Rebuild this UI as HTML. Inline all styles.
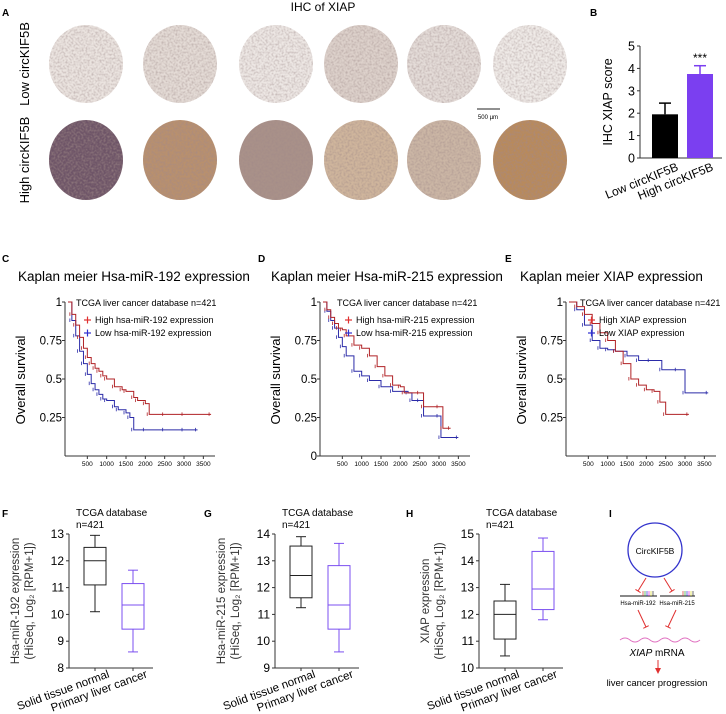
<!DOCTYPE html>
<html><head><meta charset="utf-8"><style>
html,body{margin:0;padding:0;background:#fff}
svg{display:block;font-family:"Liberation Sans",sans-serif}
</style></head><body>
<svg id="fig" width="726" height="714" viewBox="0 0 726 714" xmlns="http://www.w3.org/2000/svg">
<defs>
<filter id="tex" x="0" y="0" width="100%" height="100%">
<feTurbulence type="fractalNoise" baseFrequency="0.5" numOctaves="2" seed="3" result="n"/>
<feColorMatrix in="n" type="matrix" values="0 0 0 0 0.35  0 0 0 0 0.25  0 0 0 0 0.25  0 0 0 -1.2 0.75" result="m"/>
<feComposite in="m" in2="SourceGraphic" operator="in" result="c"/>
<feMerge><feMergeNode in="SourceGraphic"/><feMergeNode in="c"/></feMerge>
</filter>
</defs>
<g id="root"></g>
</svg>
<script>
// ---------- DATA ----------
const ihcLowColors = ["#ebe4e0","#e4dbd6","#ede7e4","#ddd1cb","#e4dcd8","#efeae7"];
const ihcHighColors = ["#6e5567","#b8906e","#a99189","#cfb59c","#cbb6a5","#b88a5c"];
const barCategories = ["Low circKIF5B","High circKIF5B"];
const barValues = [1.95, 3.75];
const barErrors = [0.5, 0.37];
const barTicks = [0,1,2,3,4,5];

const kmTicksX = [500,1000,1500,2000,2500,3000,3500];
const kmTicksY = [1,0.75,0.5,0.25];
const cHighT = [0,100,200,300,400,500,600,700,800,900,1000,1200,1400,1500,1700,1800,2000,2100,2500,3000,3700];
const cHighS = [1,0.92,0.85,0.77,0.70,0.64,0.60,0.57,0.55,0.52,0.50,0.45,0.43,0.42,0.38,0.36,0.34,0.27,0.27,0.27,0.27];
const cLowT = [0,100,200,300,400,500,600,700,800,900,1000,1200,1300,1500,1600,1700,2000,2500,3000,3350];
const cLowS = [1,0.88,0.78,0.68,0.60,0.53,0.47,0.43,0.40,0.37,0.36,0.32,0.30,0.28,0.25,0.17,0.17,0.17,0.17,0.17];
const dHighT = [0,100,200,300,400,500,600,800,1000,1200,1400,1600,1800,2000,2100,2500,2600,3000,3100,3300];
const dHighS = [1,0.95,0.90,0.86,0.83,0.82,0.78,0.72,0.70,0.65,0.58,0.52,0.46,0.45,0.41,0.41,0.32,0.32,0.18,0.18];
const dLowT = [0,100,200,300,400,500,600,800,1000,1200,1500,1800,2200,2300,2500,2600,3000,3050,3500];
const dLowS = [1,0.94,0.88,0.83,0.77,0.71,0.65,0.55,0.52,0.49,0.45,0.42,0.41,0.36,0.36,0.26,0.26,0.12,0.12];
const eHighT = [0,200,400,600,800,1000,1200,1400,1600,1800,2000,2200,2350,2500,3100];
const eHighS = [1,0.97,0.92,0.86,0.80,0.75,0.68,0.60,0.50,0.46,0.43,0.42,0.35,0.27,0.27];
const eLowT = [0,200,400,600,800,1000,1200,1500,1800,2100,2400,2800,3000,3600];
const eLowS = [1,0.95,0.85,0.75,0.70,0.69,0.68,0.65,0.62,0.62,0.56,0.56,0.41,0.41];

const boxCategories = ["Solid tissue normal","Primary liver cancer"];
// [min, q1, median, q3, max]
const fNormal = [10.1,11.1,12.0,12.5,12.95];
const fCancer = [8.6,9.45,10.35,11.15,11.65];
const gNormal = [11.25,11.62,12.45,13.55,13.9];
const gCancer = [9.6,10.45,11.35,12.82,13.65];
const hNormal = [10.45,11.08,12.0,12.5,13.12];
const hCancer = [11.8,12.18,12.95,14.35,14.85];
const fTicks = [8,9,10,11,12,13];
const gTicks = [9,10,11,12,13,14];
const hTicks = [10,11,12,13,14,15];

// ---------- HELPERS ----------
const NS="http://www.w3.org/2000/svg";
const root=document.getElementById('root');
function mk(tag,attrs,parent,text){const e=document.createElementNS(NS,tag);for(const k in attrs)e.setAttribute(k,attrs[k]);if(text!==undefined)e.textContent=text;(parent||root).appendChild(e);return e;}
function grp(name,parent){const g=mk('g',{},parent);


return g;}
function txt(name,x,y,s,attrs,parent){const t=mk('text',Object.assign({x:x,y:y},attrs),parent,s);


return t;}

// ---------- PANEL A ----------
const gA=grp('panel-a');
txt('panel-label-a',2,16,'A',{'font-size':10,'font-weight':'bold'},gA);
txt('ihc-title',323,11,'IHC of XIAP',{'font-size':12,'text-anchor':'middle'},gA);
const ihcX=[86,180,276,361,444,530];
ihcX.forEach((x,i)=>{
  const c1=mk('ellipse',{cx:x,cy:64,rx:37,ry:39,fill:ihcLowColors[i],filter:'url(#tex)'},gA);
  
  
  const c2=mk('ellipse',{cx:x,cy:160,rx:37,ry:40,fill:ihcHighColors[i],filter:'url(#tex)'},gA);
  
  
});
txt('row-label-low',29,64,'Low circKIF5B',{'font-size':13,'text-anchor':'middle',transform:'rotate(-90 29 64)'},gA);
txt('row-label-high',29,160,'High circKIF5B',{'font-size':13,'text-anchor':'middle',transform:'rotate(-90 29 160)'},gA);
const sb=mk('line',{x1:477,y1:109,x2:500,y2:109,stroke:'#222','stroke-width':1},gA);


txt('scale-bar-label',488,119,'500 µm',{'font-size':6,'text-anchor':'middle'},gA);

// ---------- PANEL B ----------
const gB=grp('panel-b');
txt('panel-label-b',590,16,'B',{'font-size':10,'font-weight':'bold'},gB);
const bx0=640,by0=158,bunit=22.4;
const yB=v=>by0-v*bunit;
mk('line',{x1:bx0,y1:yB(5),x2:bx0,y2:by0,stroke:'#333'},gB);
mk('line',{x1:bx0,y1:by0,x2:722,y2:by0,stroke:'#333'},gB);
barTicks.forEach(t=>{mk('line',{x1:bx0-3,y1:yB(t),x2:bx0,y2:yB(t),stroke:'#333'},gB);
txt('b-y-tick',bx0-5,yB(t)+4.5,String(t),{'font-size':12.5,'text-anchor':'end'},gB);});
txt('b-y-title',612,102,'IHC XIAP score',{'font-size':12.5,'text-anchor':'middle',transform:'rotate(-90 612 102)'},gB);
const barX=[652,687],barCol=['#000','#7b3ff0'];
barValues.forEach((v,i)=>{
  const r=mk('rect',{x:barX[i],y:yB(v),width:26,height:by0-yB(v),fill:barCol[i]},gB);
  
  
  const cx=barX[i]+13;
  mk('line',{x1:cx,y1:yB(v),x2:cx,y2:yB(v+barErrors[i]),stroke:barCol[i],'stroke-width':1.5},gB);
  mk('line',{x1:cx-6,y1:yB(v+barErrors[i]),x2:cx+6,y2:yB(v+barErrors[i]),stroke:barCol[i],'stroke-width':1.5},gB);
  txt('b-x-label',cx+14,by0+12,barCategories[i],{'font-size':12,'text-anchor':'end',transform:`rotate(-22 ${cx+14} ${by0+12})`},gB);
});
txt('significance-stars',700,62,'***',{'font-size':12,'text-anchor':'middle'},gB);

// ---------- KM PANELS ----------
function km(name,letter,lx,title,tx,ax,legX,hT,hS,lT,lS,hName,lName,showZero){
  const g=grp(name);
  txt('panel-label-'+letter.toLowerCase(),lx,262,letter,{'font-size':10,'font-weight':'bold'},g);
  txt('km-title',tx,281,title,{'font-size':13.5},g);
  const y1=302,y0=456;
  const X=t=>ax+3+t*0.03867, Y=s=>y0-s*(y0-y1);
  mk('line',{x1:ax,y1:y1,x2:ax,y2:y0,stroke:'#333'},g);
  mk('line',{x1:ax,y1:y0,x2:ax+150,y2:y0,stroke:'#333'},g);
  kmTicksY.concat(showZero?[0]:[]).forEach(s=>{mk('line',{x1:ax-3,y1:Y(s),x2:ax,y2:Y(s),stroke:'#333'},g);
    txt('km-y-tick',ax-3,Y(s)+4,String(s),{'font-size':11.5,'text-anchor':'end'},g);});
  kmTicksX.forEach(t=>{mk('line',{x1:X(t),y1:y0,x2:X(t),y2:y0+3,stroke:'#333'},g);
    txt('km-x-tick',X(t),y0+10,String(t),{'font-size':6.5,'text-anchor':'middle'},g);});
  txt('km-y-title',ax-40,380,'Overall survival',{'font-size':13,'text-anchor':'middle',transform:`rotate(-90 ${ax-40} 380)`},g);
  function step(T,S,col,nm){
    let d='M'+X(T[0])+','+Y(S[0]);
    for(let i=1;i<T.length;i++){d+=' H'+X(T[i])+' V'+Y(S[i]);}
    const p=mk('path',{d:d,fill:'none',stroke:col,'stroke-width':1},g);
    
    
    for(let i=1;i<T.length;i++){mk('line',{x1:X(T[i])-2,y1:Y(S[i])+1.5,x2:X(T[i])-2,y2:Y(S[i])-2,stroke:col,'stroke-width':0.8},g);}
  }
  step(lT,lS,'#2b2ba8','km-low-curve');
  step(hT,hS,'#b02226','km-high-curve');
  txt('km-legend-title',legX,306,'TCGA liver cancer database n=421',{'font-size':9},g);
  [['#e03030',hName,323],['#3030d0',lName,336]].forEach(([c,s,y])=>{
    mk('line',{x1:legX+8,y1:y-3,x2:legX+15,y2:y-3,stroke:c,'stroke-width':1.2},g);
    mk('line',{x1:legX+11.5,y1:y-6.5,x2:legX+11.5,y2:y+0.5,stroke:c,'stroke-width':1.2},g);
    txt('km-legend-entry',legX+19,y,s,{'font-size':9},g);
  });
}
km('panel-c','C',2,'Kaplan meier Hsa-miR-192 expression',18,65,76,cHighT,cHighS,cLowT,cLowS,'High hsa-miR-192 expression','Low hsa-miR-192 expression',false);
km('panel-d','D',258,'Kaplan meier Hsa-miR-215 expression',271,320,337,dHighT,dHighS,dLowT,dLowS,'High hsa-miR-215 expression','Low hsa-miR-215 expression',true);
km('panel-e','E',505,'Kaplan meier XIAP expression',520,566,580,eHighT,eHighS,eLowT,eLowS,'High XIAP expression','Low XIAP expression',false);

// ---------- BOX PANELS ----------
function box(name,letter,lx,ax,ticks,normal,cancer,line1){
  const g=grp(name);
  txt('panel-label-'+letter.toLowerCase(),lx,517,letter,{'font-size':10,'font-weight':'bold'},g);
  txt('box-title',ax+7,516,'TCGA database',{'font-size':10},g);
  txt('box-n',ax+7,528,'n=421',{'font-size':10},g);
  const yTop=534,yBot=668,lo=ticks[0],hi=ticks[ticks.length-1];
  const Y=v=>yBot-(v-lo)/(hi-lo)*(yBot-yTop);
  mk('line',{x1:ax,y1:yTop,x2:ax,y2:yBot,stroke:'#333'},g);
  mk('line',{x1:ax,y1:yBot,x2:ax+84,y2:yBot,stroke:'#333'},g);
  ticks.forEach(t=>{mk('line',{x1:ax-3,y1:Y(t),x2:ax,y2:Y(t),stroke:'#333'},g);
    txt('box-y-tick',ax-5,Y(t)+4,String(t),{'font-size':12,'text-anchor':'end'},g);});
  txt('box-y-title',ax-50,601,line1,{'font-size':11.5,'text-anchor':'middle',fill:'#333',transform:`rotate(-90 ${ax-50} 601)`},g);
  txt('box-y-title-2',ax-36,601,'(HiSeq, Log₂ [RPM+1])',{'font-size':11.5,'text-anchor':'middle',fill:'#333',transform:`rotate(-90 ${ax-36} 601)`},g);
  [[normal,'#222',26],[cancer,'#7b4ff0',64]].forEach(([b,c,dx],i)=>{
    const cx=ax+dx,w=22;
    mk('line',{x1:cx,y1:yBot,x2:cx,y2:yBot+3,stroke:'#333'},g);
    const gb=grp(i?'box-cancer':'box-normal',g);
    mk('line',{x1:cx,y1:Y(b[0]),x2:cx,y2:Y(b[4]),stroke:c},gb);
    mk('line',{x1:cx-5,y1:Y(b[0]),x2:cx+5,y2:Y(b[0]),stroke:c},gb);
    mk('line',{x1:cx-5,y1:Y(b[4]),x2:cx+5,y2:Y(b[4]),stroke:c},gb);
    mk('rect',{x:cx-w/2,y:Y(b[3]),width:w,height:Y(b[1])-Y(b[3]),fill:'#fff',stroke:c},gb);
    mk('line',{x1:cx-w/2,y1:Y(b[2]),x2:cx+w/2,y2:Y(b[2]),stroke:c},gb);
    txt('box-x-label',cx+15,yBot+9,boxCategories[i],{'font-size':11.5,'text-anchor':'end',transform:`rotate(-20 ${cx+15} ${yBot+9})`},g);
  });
}
box('panel-f','F',2,69,fTicks,fNormal,fCancer,'Hsa-miR-192 expression');
box('panel-g','G',204,275,gTicks,gNormal,gCancer,'Hsa-miR-215 expression');
box('panel-h','H',406,479,hTicks,hNormal,hCancer,'XIAP expression');

// ---------- PANEL I ----------
const gI=grp('panel-i');
txt('panel-label-i',609,517,'I',{'font-size':10,'font-weight':'bold'},gI);
mk('circle',{cx:655,cy:550,r:27,fill:'#fff',stroke:'#3333cc','stroke-width':1.3},gI);
txt('circkif5b-label',655,554,'CircKIF5B',{'font-size':8.5,'text-anchor':'middle'},gI);
function inh(x1,y1,x2,y2){mk('line',{x1:x1,y1:y1,x2:x2,y2:y2,stroke:'#e03030','stroke-width':1},gI);
  const dx=x2-x1,dy=y2-y1,l=Math.hypot(dx,dy),px=-dy/l*3,py=dx/l*3;
  mk('line',{x1:x2-px,y1:y2-py,x2:x2+px,y2:y2+py,stroke:'#e03030','stroke-width':1},gI);}
inh(646,578,638,591);inh(664,578,672,591);
mk('line',{x1:620,y1:596,x2:657,y2:596,stroke:'#111'},gI);
mk('line',{x1:660,y1:596,x2:695,y2:596,stroke:'#111'},gI);
['#d33','#3a3','#33d','#d3d','#dd3','#333'].forEach((c,i)=>{
  mk('line',{x1:643+i*2,y1:591,x2:643+i*2,y2:596,stroke:c,'stroke-width':0.7},gI);
  mk('line',{x1:683+i*2,y1:591,x2:683+i*2,y2:596,stroke:c,'stroke-width':0.7},gI);});
txt('mir192-label',638,605,'Hsa-miR-192',{'font-size':6,'text-anchor':'middle'},gI);
txt('mir215-label',677,605,'Hsa-miR-215',{'font-size':6,'text-anchor':'middle'},gI);
inh(638,610,646,627);inh(676,610,668,627);
const wave=mk('path',{d:'M620,640 q5,-4 10,0 q5,4 10,0 q5,-4 10,0 q5,4 10,0 q5,-4 10,0 q5,4 10,0 q5,-4 10,0 q5,4 10,0',fill:'none',stroke:'#e070c0','stroke-width':1},gI);


const xm=txt('xiap-mrna-label',657,656,'',{'font-size':10,'text-anchor':'middle'},gI);
mk('tspan',{'font-style':'italic'},xm,'XIAP');mk('tspan',{},xm,' mRNA');
mk('line',{x1:658,y1:660,x2:658,y2:670,stroke:'#e03030','stroke-width':1},gI);
mk('path',{d:'M655,668 L658,674 L661,668 Z',fill:'#e03030'},gI);
txt('outcome-label',657,686,'liver cancer progression',{'font-size':9.5,'text-anchor':'middle'},gI);
</script>
</body></html>
